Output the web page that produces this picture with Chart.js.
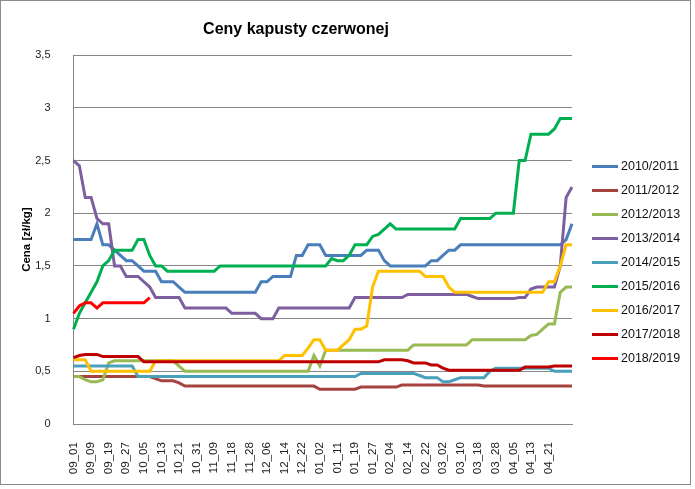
<!DOCTYPE html>
<html>
<head>
<meta charset="utf-8">
<title>Ceny kapusty czerwonej</title>
<script src="https://cdn.jsdelivr.net/npm/chart.js@4/dist/chart.umd.min.js"></script>
<style>
  body { margin: 0; background: #fff; }
  canvas { display: block; }
</style>
</head>
<body>
<canvas id="priceChart" width="695" height="489"></canvas>
<script>
// tick labels on the x axis (one every 3 data points)
const tickLabels = ["09_01", "09_09", "09_19", "09_27", "10_05", "10_13", "10_21", "10_31",
  "11_09", "11_18", "11_28", "12_06", "12_14", "12_22", "01_02", "01_11", "01_19", "01_27",
  "02_04", "02_14", "02_22", "03_02", "03_10", "03_18", "03_28", "04_05", "04_13", "04_21"];

const seasons = ["2010/2011", "2011/2012", "2012/2013", "2013/2014", "2014/2015",
  "2015/2016", "2016/2017", "2017/2018", "2018/2019"];

// prices zl/kg
const s2010 = [1.75, 1.75, 1.75, 1.75, 1.9, 1.7, 1.7, 1.65, 1.6, 1.55,
  1.55, 1.5, 1.45, 1.45, 1.45, 1.35, 1.35, 1.35, 1.3, 1.25,
  1.25, 1.25, 1.25, 1.25, 1.25, 1.25, 1.25, 1.25, 1.25, 1.25,
  1.25, 1.25, 1.35, 1.35, 1.4, 1.4, 1.4, 1.4, 1.6, 1.6,
  1.7, 1.7, 1.7, 1.6, 1.6, 1.6, 1.6, 1.6, 1.6, 1.6,
  1.65, 1.65, 1.65, 1.55, 1.5, 1.5, 1.5, 1.5, 1.5, 1.5,
  1.5, 1.55, 1.55, 1.6, 1.65, 1.65, 1.7, 1.7, 1.7, 1.7,
  1.7, 1.7, 1.7, 1.7, 1.7, 1.7, 1.7, 1.7, 1.7, 1.7,
  1.7, 1.7, 1.7, 1.7, 1.75, 1.9];
const s2011 = [0.45, 0.45, 0.45, 0.45, 0.45, 0.45, 0.45, 0.45, 0.45, 0.45,
  0.45, 0.45, 0.45, 0.45, 0.43, 0.41, 0.41, 0.41, 0.39, 0.36,
  0.36, 0.36, 0.36, 0.36, 0.36, 0.36, 0.36, 0.36, 0.36, 0.36,
  0.36, 0.36, 0.36, 0.36, 0.36, 0.36, 0.36, 0.36, 0.36, 0.36,
  0.36, 0.36, 0.33, 0.33, 0.33, 0.33, 0.33, 0.33, 0.33, 0.35,
  0.35, 0.35, 0.35, 0.35, 0.35, 0.35, 0.37, 0.37, 0.37, 0.37,
  0.37, 0.37, 0.37, 0.37, 0.37, 0.37, 0.37, 0.37, 0.37, 0.37,
  0.36, 0.36, 0.36, 0.36, 0.36, 0.36, 0.36, 0.36, 0.36, 0.36,
  0.36, 0.36, 0.36, 0.36, 0.36, 0.36];
const s2012 = [0.45, 0.45, 0.42, 0.4, 0.4, 0.42, 0.58, 0.6, 0.6, 0.6,
  0.6, 0.6, 0.6, 0.6, 0.6, 0.6, 0.6, 0.6, 0.55, 0.5,
  0.5, 0.5, 0.5, 0.5, 0.5, 0.5, 0.5, 0.5, 0.5, 0.5,
  0.5, 0.5, 0.5, 0.5, 0.5, 0.5, 0.5, 0.5, 0.5, 0.5,
  0.5, 0.65, 0.55, 0.7, 0.7, 0.7, 0.7, 0.7, 0.7, 0.7,
  0.7, 0.7, 0.7, 0.7, 0.7, 0.7, 0.7, 0.7, 0.75, 0.75,
  0.75, 0.75, 0.75, 0.75, 0.75, 0.75, 0.75, 0.75, 0.8, 0.8,
  0.8, 0.8, 0.8, 0.8, 0.8, 0.8, 0.8, 0.8, 0.84, 0.85,
  0.9, 0.95, 0.95, 1.25, 1.3, 1.3];
const s2013 = [2.5, 2.45, 2.15, 2.15, 1.95, 1.9, 1.9, 1.5, 1.5, 1.4,
  1.4, 1.4, 1.35, 1.3, 1.2, 1.2, 1.2, 1.2, 1.2, 1.1,
  1.1, 1.1, 1.1, 1.1, 1.1, 1.1, 1.1, 1.05, 1.05, 1.05,
  1.05, 1.05, 1.0, 1.0, 1.0, 1.1, 1.1, 1.1, 1.1, 1.1,
  1.1, 1.1, 1.1, 1.1, 1.1, 1.1, 1.1, 1.1, 1.2, 1.2,
  1.2, 1.2, 1.2, 1.2, 1.2, 1.2, 1.2, 1.23, 1.23, 1.23,
  1.23, 1.23, 1.23, 1.23, 1.23, 1.23, 1.23, 1.23, 1.21, 1.19,
  1.19, 1.19, 1.19, 1.19, 1.19, 1.19, 1.2, 1.2, 1.28, 1.3,
  1.3, 1.3, 1.3, 1.5, 2.15, 2.25];
const s2014 = [0.55, 0.55, 0.55, 0.55, 0.55, 0.55, 0.55, 0.55, 0.55, 0.55,
  0.55, 0.45, 0.45, 0.45, 0.45, 0.45, 0.45, 0.45, 0.45, 0.45,
  0.45, 0.45, 0.45, 0.45, 0.45, 0.45, 0.45, 0.45, 0.45, 0.45,
  0.45, 0.45, 0.45, 0.45, 0.45, 0.45, 0.45, 0.45, 0.45, 0.45,
  0.45, 0.45, 0.45, 0.45, 0.45, 0.45, 0.45, 0.45, 0.45, 0.48,
  0.48, 0.48, 0.48, 0.48, 0.48, 0.48, 0.48, 0.48, 0.48, 0.46,
  0.44, 0.44, 0.44, 0.4, 0.4, 0.42, 0.44, 0.44, 0.44, 0.44,
  0.44, 0.5, 0.53, 0.53, 0.53, 0.53, 0.53, 0.53, 0.53, 0.53,
  0.53, 0.53, 0.5, 0.5, 0.5, 0.5];
const s2015 = [0.9, 1.05, 1.15, 1.25, 1.35, 1.5, 1.55, 1.65, 1.65, 1.65,
  1.65, 1.75, 1.75, 1.6, 1.5, 1.5, 1.45, 1.45, 1.45, 1.45,
  1.45, 1.45, 1.45, 1.45, 1.45, 1.5, 1.5, 1.5, 1.5, 1.5,
  1.5, 1.5, 1.5, 1.5, 1.5, 1.5, 1.5, 1.5, 1.5, 1.5,
  1.5, 1.5, 1.5, 1.5, 1.57, 1.55, 1.55, 1.6, 1.7, 1.7,
  1.7, 1.78, 1.8, 1.85, 1.9, 1.85, 1.85, 1.85, 1.85, 1.85,
  1.85, 1.85, 1.85, 1.85, 1.85, 1.85, 1.95, 1.95, 1.95, 1.95,
  1.95, 1.95, 2.0, 2.0, 2.0, 2.0, 2.5, 2.5, 2.75, 2.75,
  2.75, 2.75, 2.8, 2.9, 2.9, 2.9];
const s2016 = [0.61, 0.61, 0.61, 0.5, 0.5, 0.5, 0.5, 0.5, 0.5, 0.5,
  0.5, 0.5, 0.5, 0.5, 0.6, 0.6, 0.6, 0.6, 0.6, 0.6,
  0.6, 0.6, 0.6, 0.6, 0.6, 0.6, 0.6, 0.6, 0.6, 0.6,
  0.6, 0.6, 0.6, 0.6, 0.6, 0.6, 0.65, 0.65, 0.65, 0.65,
  0.72, 0.8, 0.8, 0.7, 0.7, 0.7, 0.75, 0.8, 0.9, 0.9,
  0.93, 1.3, 1.45, 1.45, 1.45, 1.45, 1.45, 1.45, 1.45, 1.45,
  1.4, 1.4, 1.4, 1.4, 1.3, 1.25, 1.25, 1.25, 1.25, 1.25,
  1.25, 1.25, 1.25, 1.25, 1.25, 1.25, 1.25, 1.25, 1.25, 1.25,
  1.25, 1.35, 1.35, 1.5, 1.7, 1.7];
const s2017 = [0.63, 0.65, 0.66, 0.66, 0.66, 0.64, 0.64, 0.64, 0.64, 0.64,
  0.64, 0.64, 0.59, 0.59, 0.59, 0.59, 0.59, 0.59, 0.59, 0.59,
  0.59, 0.59, 0.59, 0.59, 0.59, 0.59, 0.59, 0.59, 0.59, 0.59,
  0.59, 0.59, 0.59, 0.59, 0.59, 0.59, 0.59, 0.59, 0.59, 0.59,
  0.59, 0.59, 0.59, 0.59, 0.59, 0.59, 0.59, 0.59, 0.59, 0.59,
  0.59, 0.59, 0.59, 0.61, 0.61, 0.61, 0.61, 0.6, 0.58, 0.58,
  0.58, 0.56, 0.56, 0.53, 0.51, 0.51, 0.51, 0.51, 0.51, 0.51,
  0.51, 0.51, 0.51, 0.51, 0.51, 0.51, 0.51, 0.54, 0.54, 0.54,
  0.54, 0.54, 0.55, 0.55, 0.55, 0.55];
const s2018 = [1.05, 1.12, 1.15, 1.15, 1.1, 1.15, 1.15, 1.15, 1.15, 1.15,
  1.15, 1.15, 1.15, 1.2];

const series = [s2010, s2011, s2012, s2013, s2014, s2015, s2016, s2017, s2018];
const colors = ["#4A7EBB", "#A5443F", "#98B954", "#7D5FA0", "#4AA0BA",
  "#00B050", "#FFC000", "#C00000", "#FF0000"];

// category axis: every tick label is followed by two unlabeled days
const categories = [];
tickLabels.forEach(function (lbl) { categories.push(lbl, "", ""); });
while (categories.length < s2010.length) categories.push("");

Chart.defaults.font.family = '"Liberation Sans", Arial, sans-serif';
Chart.defaults.color = "#222";

// white background, outer frame and the legend on the right
const framePlugin = {
  id: "frame",
  beforeDraw(chart) {
    const c = chart.ctx;
    c.save();
    c.fillStyle = "#fff";
    c.fillRect(0, 0, chart.width, chart.height);
    c.strokeStyle = "#8c8c8c";
    c.lineWidth = 1;
    c.strokeRect(0.5, 0.5, 690, 484);
    c.restore();
  },
  afterDraw(chart) {
    const c = chart.ctx;
    c.save();
    c.font = '12.5px "Liberation Sans", Arial, sans-serif';
    c.textBaseline = "middle";
    chart.data.datasets.forEach(function (ds, i) {
      const y = 166.5 + i * 24;
      c.strokeStyle = ds.borderColor;
      c.lineWidth = 3;
      c.beginPath();
      c.moveTo(592, y);
      c.lineTo(618, y);
      c.stroke();
      c.fillStyle = "#111";
      c.fillText(ds.label, 621, y);
    });
    c.restore();
  }
};

const ctx = document.getElementById("priceChart").getContext("2d");
new Chart(ctx, {
  type: "line",
  data: {
    labels: categories,
    datasets: seasons.map(function (name, i) {
      return {
        label: name,
        data: series[i],
        borderColor: colors[i],
        backgroundColor: colors[i],
        borderWidth: 3,
        pointRadius: 0,
        tension: 0,
        fill: false,
        order: seasons.length - 1 - i // later seasons on top, like Excel
      };
    })
  },
  options: {
    responsive: false,
    animation: false,
    layout: { padding: { left: 20, right: 123, top: 0, bottom: 0 } },
    plugins: {
      legend: { display: false },
      tooltip: { enabled: false },
      title: {
        display: true,
        text: "Ceny kapusty czerwonej",
        color: "#000",
        font: { size: 16, weight: "bold" },
        padding: { top: 20, bottom: 16 }
      }
    },
    scales: {
      x: {
        grid: { display: false },
        border: { color: "#868686" },
        ticks: {
          autoSkip: false,
          maxRotation: 90,
          minRotation: 90,
          padding: 10,
          font: { size: 11.6 }
        },
        afterFit: function (s) { s.height = 65; }
      },
      y: {
        min: 0,
        max: 3.5,
        grid: { color: "#868686", drawTicks: false },
        border: { color: "#868686" },
        ticks: {
          stepSize: 0.5,
          padding: 23,
          font: { size: 11 },
          callback: function (v) { return String(v).replace(".", ","); }
        },
        title: {
          display: true,
          text: "Cena [zł/kg]",
          color: "#000",
          font: { size: 11.5, weight: "bold" },
          padding: 0
        },
        afterFit: function (s) { s.width = 53.5; }
      }
    }
  },
  plugins: [framePlugin]
});
</script>
</body>
</html>
